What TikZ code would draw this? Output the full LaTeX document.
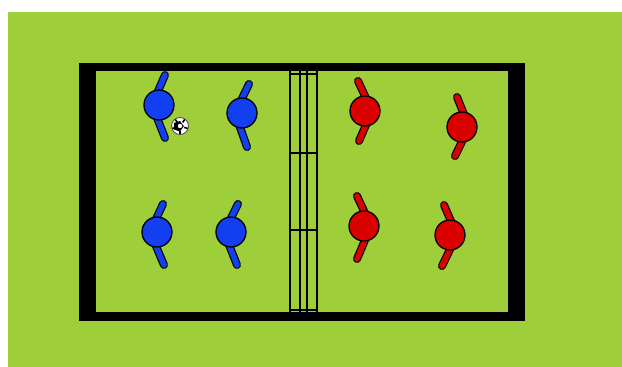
\documentclass[tikz,border=0pt]{standalone}
\usetikzlibrary{calc}
\begin{document}
\definecolor{pitch}{RGB}{158,206,58}
\definecolor{teamblue}{RGB}{18,64,240}
\definecolor{teamred}{RGB}{218,0,0}
\tikzset{
  goalline/.style={line width=2pt, black},
  stickout/.style={line width=8pt, line cap=round, black},
  stickin/.style={line width=5.6pt, line cap=round},
  body/.style={circle, draw=black, line width=1.3pt, minimum size=30pt, inner sep=0pt},
}
% player: colour, centre, pivot shift (x), top end of stick, bottom end of stick
\newcommand\fbplayer[5]{%
  \coordinate (pv) at ($(#2)+(#3,0)$);
  \draw[stickout] (pv) -- (#4) (pv) -- (#5);
  \draw[stickin, #1] (pv) -- (#4) (pv) -- (#5);
  \node[body, fill=#1] at (#2) {};
}
\begin{tikzpicture}[x=1pt,y=-1pt]
\useasboundingbox (0,0) rectangle (622,367);
\fill[white] (0,0) rectangle (622,367);
\fill[pitch] (8,12) rectangle (622,367);

% field border
\fill[black] (79,63) rectangle (525,321);
\fill[pitch] (96,71) rectangle (508,312);

% centre goal
\foreach \gx in {289.5,299.5,307,317}
  \draw[goalline] (\gx,71) -- (\gx,312);
\foreach \gy in {74,153,230,310}
  \draw[goalline, line width=2.5pt] (289.5,\gy) -- (317,\gy);

% blue team
\fbplayer{teamblue}{159,105}{-7}{165,75}{165,138}
\fbplayer{teamblue}{242,113}{-7}{249,84}{247,147}
\fbplayer{teamblue}{157,232}{-7}{163,204}{164,265}
\fbplayer{teamblue}{231,232}{-7}{238,204}{237,265}

% red team
\fbplayer{teamred}{365,111}{7}{358,81}{359,141}
\fbplayer{teamred}{462,127}{7}{457,97}{455,156}
\fbplayer{teamred}{364,226}{7}{357,196}{357,259}
\fbplayer{teamred}{450,235}{7}{444,205}{442,266}

% ball
\node[circle, draw=black!70, line width=0.8pt, fill=white, minimum size=17pt, inner sep=0pt] (ball) at (180,126) {};
\fill[black] (ball.center) ++(90:5.5) -- ++(-54:6.5) -- ++(-126:6.5) -- ++(162:6.5) -- ++(90:6.5) -- cycle;
\foreach \a in {90,162,234,306,18}
  \draw[black, line width=1.6pt] (ball.center) ++(\a:4.5) -- ++(\a:3.5);
\fill[white] (ball.center) circle (2.2pt);
\end{tikzpicture}
\end{document}
